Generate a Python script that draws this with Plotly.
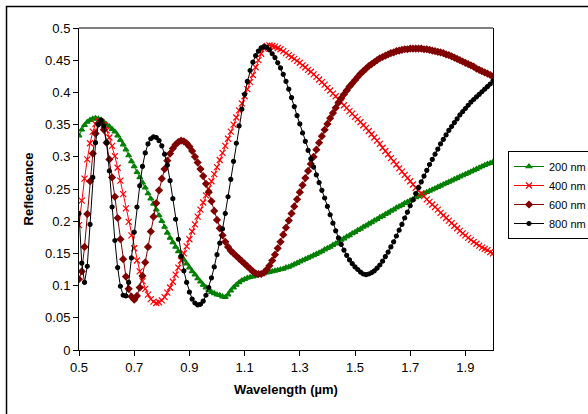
import plotly.graph_objects as go

wavelength = [
    0.50, 0.51, 0.52, 0.53, 0.54, 0.55, 0.56, 0.57, 0.58, 0.59,
    0.60, 0.61, 0.62, 0.63, 0.64, 0.65, 0.66, 0.67, 0.68, 0.69,
    0.70, 0.71, 0.72, 0.73, 0.74, 0.75, 0.76, 0.77, 0.78, 0.79,
    0.80, 0.81, 0.82, 0.83, 0.84, 0.85, 0.86, 0.87, 0.88, 0.89,
    0.90, 0.91, 0.92, 0.93, 0.94, 0.95, 0.96, 0.97, 0.98, 0.99,
    1.00, 1.01, 1.02, 1.03, 1.04, 1.05, 1.06, 1.07, 1.08, 1.09,
    1.10, 1.11, 1.12, 1.13, 1.14, 1.15, 1.16, 1.17, 1.18, 1.19,
    1.20, 1.21, 1.22, 1.23, 1.24, 1.25, 1.26, 1.27, 1.28, 1.29,
    1.30, 1.31, 1.32, 1.33, 1.34, 1.35, 1.36, 1.37, 1.38, 1.39,
    1.40, 1.41, 1.42, 1.43, 1.44, 1.45, 1.46, 1.47, 1.48, 1.49,
    1.50, 1.51, 1.52, 1.53, 1.54, 1.55, 1.56, 1.57, 1.58, 1.59,
    1.60, 1.61, 1.62, 1.63, 1.64, 1.65, 1.66, 1.67, 1.68, 1.69,
    1.70, 1.71, 1.72, 1.73, 1.74, 1.75, 1.76, 1.77, 1.78, 1.79,
    1.80, 1.81, 1.82, 1.83, 1.84, 1.85, 1.86, 1.87, 1.88, 1.89,
    1.90, 1.91, 1.92, 1.93, 1.94, 1.95, 1.96, 1.97, 1.98, 1.99,
    2.00,
]

r_200nm = [
    .333, .342, .349, .354, .357, .359, .360, .359, .357, .354,
    .350, .347, .343, .339, .333, .326, .319, .311, .302, .293,
    .285, .276, .268, .260, .252, .243, .235, .227, .218, .209,
    .200, .191, .182, .174, .167, .160, .153, .147, .140, .134,
    .128, .122, .117, .111, .106, .101, .097, .093, .090, .088,
    .086, .085, .083, .082, .086, .092, .097, .101, .105, .108,
    .110, .112, .113, .114, .115, .117, .118, .119, .120, .121,
    .122, .123, .124, .125, .126, .128, .129, .131, .133, .135,
    .137, .139, .141, .143, .145, .147, .149, .151, .153, .156,
    .158, .160, .163, .165, .168, .171, .173, .176, .178, .181,
    .183, .186, .188, .191, .193, .196, .198, .201, .203, .206,
    .208, .211, .213, .216, .218, .221, .223, .225, .228, .230,
    .232, .234, .237, .239, .241, .243, .245, .247, .249, .251,
    .253, .255, .257, .259, .261, .263, .265, .267, .269, .271,
    .273, .275, .277, .279, .281, .283, .285, .287, .289, .290,
    .292,
]

r_400nm = [
    .194, .232, .266, .296, .321, .339, .351, .356, .354, .349,
    .341, .330, .317, .301, .283, .263, .242, .220, .199, .178,
    .158, .139, .122, .107, .095, .086, .079, .075, .073, .074,
    .077, .082, .089, .097, .106, .117, .128, .139, .150, .161,
    .172, .184, .195, .207, .218, .229, .240, .251, .262, .273,
    .284, .295, .306, .317, .328, .339, .350, .361, .372, .383,
    .394, .405, .416, .427, .439, .450, .460, .468, .472, .473,
    .472, .471, .469, .467, .464, .461, .458, .455, .452, .449,
    .446, .442, .439, .435, .432, .428, .424, .420, .416, .412,
    .407, .403, .398, .394, .389, .385, .380, .376, .371, .367,
    .362, .358, .354, .349, .345, .340, .335, .330, .325, .320,
    .314, .309, .304, .298, .293, .288, .282, .277, .272, .267,
    .262, .257, .252, .248, .243, .239, .234, .230, .226, .222,
    .218, .213, .209, .205, .201, .197, .193, .189, .185, .181,
    .178, .174, .171, .168, .165, .162, .159, .157, .155, .152,
    .150,
]

r_600nm = [
    .110, .122, .160, .211, .262, .305, .336, .352, .354, .342,
    .322, .296, .268, .238, .205, .172, .141, .114, .095, .083,
    .078, .084, .097, .115, .136, .160, .184, .207, .228, .248,
    .266, .281, .294, .305, .313, .319, .323, .325, .324, .321,
    .316, .309, .300, .291, .281, .270, .258, .245, .231, .216,
    .202, .189, .178, .168, .160, .154, .150, .146, .142, .138,
    .134, .130, .126, .122, .119, .118, .118, .120, .125, .131,
    .139, .148, .158, .168, .179, .190, .201, .212, .223, .234,
    .245, .256, .267, .278, .289, .300, .311, .322, .332, .342,
    .351, .360, .368, .376, .384, .391, .397, .403, .409, .414,
    .419, .424, .429, .433, .437, .441, .444, .447, .450, .453,
    .455, .457, .459, .461, .462, .464, .465, .466, .467, .467,
    .468, .468, .468, .468, .468, .467, .467, .466, .465, .464,
    .463, .462, .461, .459, .458, .456, .454, .452, .450, .448,
    .446, .444, .442, .440, .437, .435, .433, .431, .429, .427,
    .425,
]

r_800nm = [
    .212, .135, .105, .130, .195, .268, .322, .350, .357, .348,
    .322, .278, .222, .170, .128, .099, .085, .084, .105, .143,
    .183, .222, .255, .285, .306, .320, .328, .331, .330, .325,
    .317, .304, .287, .263, .235, .203, .172, .145, .123, .105,
    .090, .079, .073, .070, .071, .076, .085, .097, .112, .129,
    .148, .166, .188, .212, .238, .265, .293, .321, .348, .374,
    .397, .417, .434, .447, .457, .464, .469, .471, .470, .466,
    .460, .454, .446, .438, .428, .417, .405, .392, .378, .364,
    .351, .337, .324, .310, .297, .284, .272, .260, .248, .236,
    .223, .210, .197, .185, .174, .164, .155, .147, .140, .134,
    .129, .125, .121, .118, .117, .118, .120, .123, .127, .132,
    .138, .145, .152, .160, .168, .177, .186, .195, .205, .214,
    .224, .233, .243, .252, .261, .270, .279, .288, .296, .304,
    .312, .320, .327, .334, .341, .347, .353, .359, .365, .370,
    .375, .380, .385, .389, .393, .397, .401, .405, .409, .413,
    .418,
]

series_names = ["200 nm", "400 nm", "600 nm", "800 nm"]
series_values = [r_200nm, r_400nm, r_600nm, r_800nm]
series_colors = ["#008000", "#FF0000", "#800000", "#000000"]
series_symbols = ["triangle-up", "x-thin-open", "diamond", "circle"]
series_sizes = [5, 6, 5, 4]

x_tick_vals = [0.5, 0.7, 0.9, 1.1, 1.3, 1.5, 1.7, 1.9]
y_tick_vals = [0, 0.05, 0.1, 0.15, 0.2, 0.25, 0.3, 0.35, 0.4, 0.45, 0.5]

FONT = 'Arial, "Liberation Sans", sans-serif'

fig = go.Figure()
for name, vals, col, sym, sz in zip(series_names, series_values, series_colors,
                                     series_symbols, series_sizes):
    fig.add_trace(go.Scatter(
        x=wavelength, y=vals, name=name, mode="lines+markers",
        line=dict(color=col, width=1),
        marker=dict(symbol=sym, size=sz, color=col,
                    line=dict(color=col, width=1.2)),
    ))

fig.update_layout(
    width=588, height=414,
    margin=dict(l=79, r=95, t=28, b=64, autoexpand=False),
    paper_bgcolor="white", plot_bgcolor="white",
    font=dict(family=FONT, size=13, color="black"),
    showlegend=True,
    legend=dict(
        x=1.0362, y=0.618, xanchor="left", yanchor="top",
        font=dict(family=FONT, size=11, color="black"),
        bgcolor="white", bordercolor="black", borderwidth=1,
        tracegroupgap=0, itemwidth=30,
    ),
    xaxis=dict(
        range=[0.5, 2.0], tickvals=x_tick_vals,
        ticktext=[f"{v:.1f}" for v in x_tick_vals],
        showgrid=False, zeroline=False,
        showline=True, linecolor="black", linewidth=1,
        ticks="outside", ticklen=5, tickcolor="black",
        tickfont=dict(size=13),
        title=dict(text="Wavelength (µm)", standoff=11,
                   font=dict(size=13, weight="bold")),
    ),
    yaxis=dict(
        range=[0, 0.5], tickvals=y_tick_vals,
        ticktext=[f"{v:g}" for v in y_tick_vals],
        showgrid=False, zeroline=False,
        showline=True, linecolor="black", linewidth=1, mirror=True,
        ticks="outside", ticklen=5, tickcolor="black",
        tickfont=dict(size=13),
        title=dict(text="Reflectance", standoff=8,
                   font=dict(size=13, weight="bold")),
    ),
    shapes=[
        dict(type="line", xref="paper", yref="paper", x0=0, x1=1, y0=1, y1=1,
             line=dict(color="#808080", width=2)),
        dict(type="rect", xref="paper", yref="paper",
             x0=-0.1751, x1=1.26, y0=-0.22, y1=1.0668,
             line=dict(color="black", width=1.5)),
    ],
)

fig.write_html(
    "out.html",
    config={"displayModeBar": False},
    post_script="document.body.style.margin='0px';document.body.style.overflow='hidden';",
)
